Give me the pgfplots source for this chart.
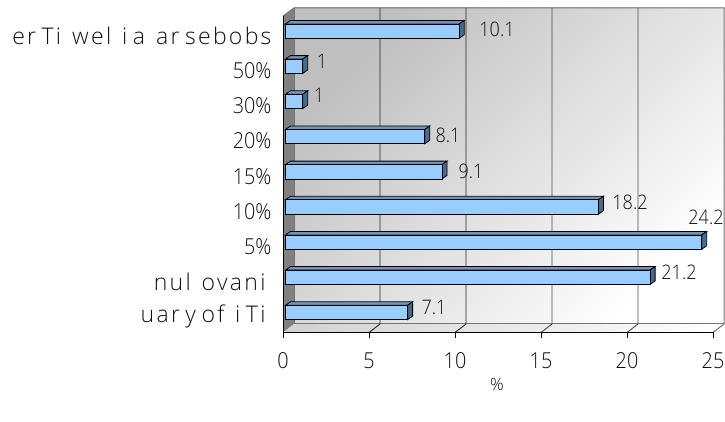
\documentclass[border=0pt]{standalone}
\usepackage{pgfplots}
\pgfplotsset{compat=1.18}
\usepackage{fontspec}
\setmainfont{Open Sans Light}
\newfontfamily\tickfont{Open Sans Light}[FakeStretch=0.9]
\newfontfamily\catfont{Open Sans Light}[LetterSpace=10]
\definecolor{barfront}{HTML}{99CCFF}
\definecolor{bartop}{HTML}{6F94BD}
\definecolor{barside}{HTML}{4A6A8C}
\definecolor{txt}{HTML}{101010}
\newcommand{\gap}{\hspace{5.5pt}}
% depth of a bar in data units: 5px over, 3px up
\newcommand{\barfaces}[2]{%
  \pgfmathsetmacro{\lo}{#2-7.15/35.17}
  \pgfmathsetmacro{\hi}{#2+7.15/35.17}
  \pgfmathsetmacro{\hib}{\hi+3.5/35.17}
  \pgfmathsetmacro{\lob}{\lo+3.5/35.17}
  \pgfmathsetmacro{\xb}{#1+5/17.2}
  \pgfmathsetmacro{\xs}{5/17.2}
  \addplot[fill=bartop,draw=black,line width=0.8pt,shift={(2.5pt,2.5pt)}] coordinates {(0,\hi)(#1,\hi)(\xb,\hib)(\xs,\hib)} -- cycle;
  \addplot[fill=barside,draw=black,line width=0.8pt,shift={(2.5pt,2.5pt)}] coordinates {(#1,\lo)(\xb,\lob)(\xb,\hib)(#1,\hi)} -- cycle;
}
\begin{document}
\begin{tikzpicture}[x=1pt,y=1pt]
\path[use as bounding box] (0,0) rectangle (725,422);
% back wall, floor and side wall
\fill[fill=black!50] (283,89.5) -- (294,98) -- (294,414) -- (283,406) -- cycle;
\shade[top color=black!25,bottom color=white,shading angle=45] (294,98) rectangle (724,414);
\shade[left color=black!18,right color=white] (283,89.5) -- (294,98) -- (724,98) -- (713,89.5) -- cycle;
\draw[black!55,line width=1pt] (283,406) -- (294,414) -- (724,414) -- (724,98) -- (713,89.5);
\draw[black!55,line width=1pt] (294,98) -- (724,98);
\draw[black!55,line width=1pt] (294,98) -- (294,414);
\foreach \k/\c in {1/85,2/85,3/70,4/70} {
  \draw[black!\c,line width=0.9pt] ({283+86*\k},89.5) -- ({294+86*\k},98) -- ({294+86*\k},414);
}
\begin{axis}[
  at={(283pt,89.5pt)}, anchor=south west,
  scale only axis, width=430pt, height=316.5pt,
  xmin=0, xmax=25, ymin=-0.5, ymax=8.5,
  clip=false,
  axis line style={black,line width=0.8pt},
  axis x line=bottom, axis y line=left,
  axis line style={-},
  xtick={0,5,10,15,20,25},
  ytick={0,...,8},
  minor ytick={-0.5,0.5,...,8.5},
  yticklabels={{\catfont\fontsize{23}{25}\selectfont uar\gap y\gap of\gap\gap i\gap Ti\kern6pt\null},{\catfont\fontsize{23}{25}\selectfont nul\gap\gap ovani\kern6pt\null},5\%,10\%,15\%,20\%,30\%,50\%,{\catfont\fontsize{23}{25}\selectfont er\gap Ti\gap\gap wel\gap\gap i\gap a\gap\gap ar\gap sebobs}},
  tick align=outside,
  major tick length=6pt, minor tick length=6pt,
  ytick style={draw=none},
  minor tick style={draw=black,line width=0.8pt},
  xtick style={black,line width=0.8pt},
  tick label style={font=\tickfont\fontsize{22}{24}\selectfont,text=txt},
  yticklabel style={xshift=-2pt,yshift=-2pt},
  xticklabel style={yshift=-11pt},
  /pgf/number format/assume math mode=true,
  xlabel={\%}, xlabel style={at={(rel axis cs:0,0)},anchor=center,xshift=214pt,yshift=-52pt,font=\fontsize{17}{19}\selectfont,text=txt},
]
\barfaces{7.1}{0}
\barfaces{21.2}{1}
\barfaces{24.2}{2}
\barfaces{18.2}{3}
\barfaces{9.1}{4}
\barfaces{8.1}{5}
\barfaces{1}{6}
\barfaces{1}{7}
\barfaces{10.1}{8}
\addplot[xbar,bar width=14.3pt,bar shift=0pt,fill=barfront,draw=black,line width=0.8pt,shift={(2.5pt,2.5pt)}]
  coordinates {(7.1,0)(21.2,1)(24.2,2)(18.2,3)(9.1,4)(8.1,5)(1,6)(1,7)(10.1,8)};
\end{axis}
% value labels
\begin{scope}[every node/.style={font=\tickfont\fontsize{20}{22}\selectfont,text=txt,anchor=center}]
\node at (497,393) {10.1};
\node at (322,361) {1};
\node at (319,327) {1};
\node at (448,287) {8.1};
\node at (471,251) {9.1};
\node at (630,220) {18.2};
\node at (706,205) {24.2};
\node at (679,150) {21.2};
\node at (434,115) {7.1};
\end{scope}
\end{tikzpicture}
\end{document}
